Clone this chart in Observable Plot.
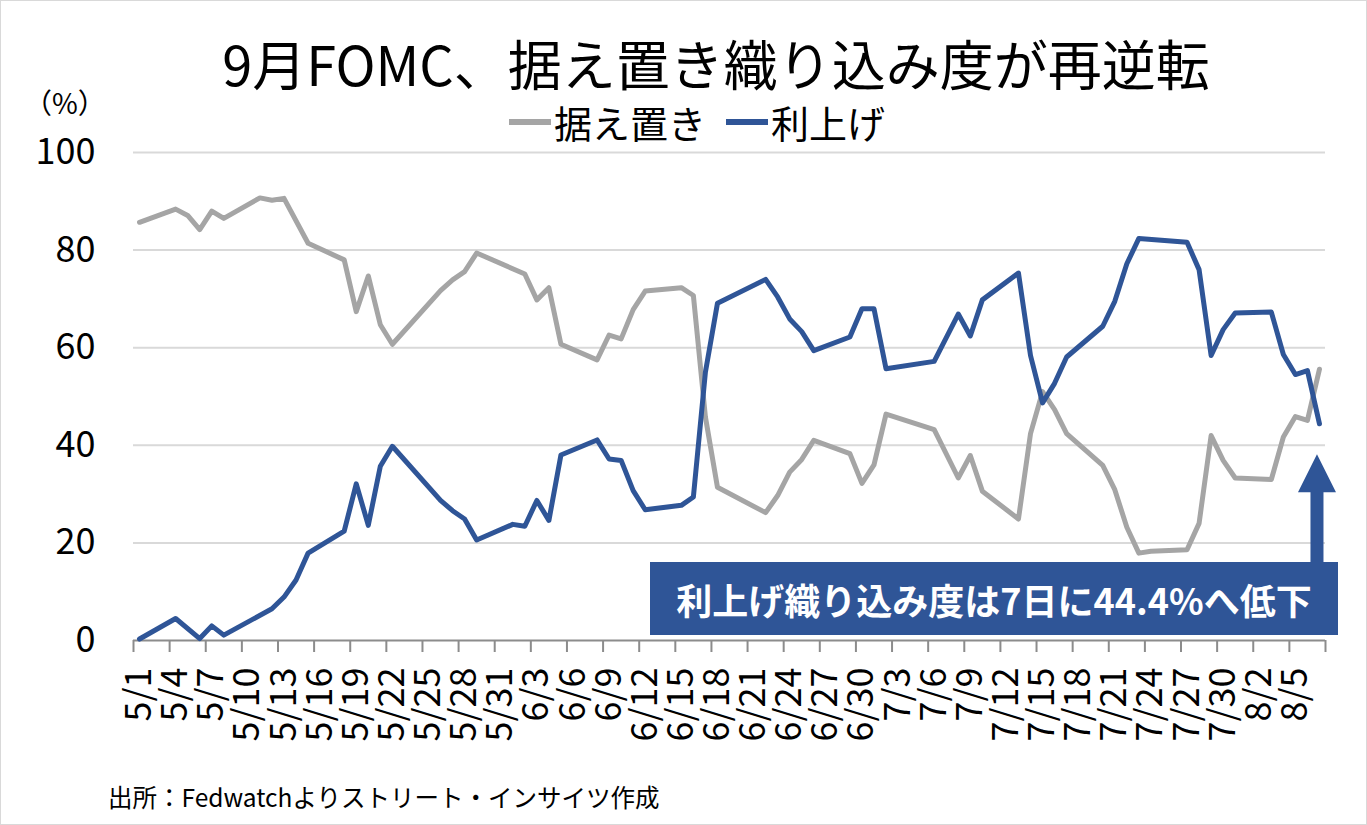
<!DOCTYPE html>
<html>
<head>
<meta charset="utf-8">
<script src="https://cdn.jsdelivr.net/npm/d3@7"></script>
<script src="https://cdn.jsdelivr.net/npm/@observablehq/plot@0.6"></script>
<style>
  body { margin: 0; background: #fff; }
  #wrap { position: relative; width: 1367px; height: 825px; overflow: hidden; font-family: "Noto Sans CJK JP", "Noto Sans", sans-serif; color: #000; }
  #chart { position: absolute; left: 0; top: 0; }
  #frame { position: absolute; left: 0; top: 0; width: 1365px; height: 823px; border: 1px solid #d9d9d9; pointer-events: none; }
  #title { position: absolute; left: 0; top: 36px; width: 1432px; text-align: center; font-size: 54px; line-height: 1; white-space: nowrap; }
  #legend { position: absolute; left: 0; top: 103px; width: 1394px; display: flex; justify-content: center; align-items: center; font-size: 38px; line-height: 1; }
  .item { display: flex; align-items: center; margin: 0 10px; }
  .swatch { width: 42px; height: 6px; margin-right: 3px; }
  #unit { position: absolute; left: 24px; top: 88px; font-size: 28px; line-height: 1; white-space: nowrap; }
  #caption { position: absolute; left: 108px; top: 785px; font-size: 24.5px; line-height: 1; white-space: nowrap; }
  #note { position: absolute; left: 650px; top: 562px; width: 688px; height: 73px; background: #2f5597; color: #fff; font-weight: bold; font-size: 36px; display: flex; align-items: center; justify-content: center; white-space: nowrap; }
</style>
</head>
<body>
<div id="wrap">
  <div id="chart"></div>
  <div id="title">9月FOMC、据え置き織り込み度が再逆転</div>
  <div id="legend"></div>
  <div id="unit">（%）</div>
  <div id="note">利上げ織り込み度は7日に44.4%へ低下</div>
  <div id="caption">出所：Fedwatchよりストリート・インサイツ作成</div>
  <div id="frame"></div>
</div>
<script>
// ---- data ----
const year = 2023;
const seriesNames = ["据え置き", "利上げ"];
const seriesColors = ["#a5a5a5", "#2f5597"];

const holdDates = ["5/1","5/4","5/5","5/6","5/7","5/8","5/11","5/12","5/13","5/15",
  "5/18","5/19","5/20","5/21","5/22","5/26","5/27","5/28","5/29","6/2",
  "6/3","6/4","6/5","6/8","6/9","6/10","6/11","6/12","6/15","6/16",
  "6/17","6/18","6/22","6/23","6/24","6/25","6/26","6/29","6/30","7/1",
  "7/2","7/6","7/8","7/9","7/10","7/13","7/14","7/15","7/16","7/17",
  "7/20","7/21","7/22","7/23","7/24","7/27","7/28","7/29","7/30","7/31",
  "8/3","8/4","8/5","8/6","8/7"];
const holdValues = [85.7,88.4,87.1,84.2,88.0,86.5,90.7,90.2,90.6,81.4,
  78.0,67.4,74.7,64.7,60.7,71.7,73.9,75.6,79.4,75.1,
  69.8,72.3,60.7,57.5,62.6,61.8,67.8,71.6,72.3,70.7,
  45.8,31.4,26.2,29.7,34.5,37.1,41.0,38.3,32.2,36.0,
  46.4,43.2,33.3,37.9,30.6,24.9,42.4,51.0,47.3,42.4,
  35.9,30.9,23.2,17.9,18.3,18.6,24.0,42.0,36.9,33.3,
  33.0,41.7,45.9,45.1,55.6];

const hikeDates = ["5/1","5/4","5/6","5/7","5/8","5/12","5/13","5/14","5/15","5/18",
  "5/19","5/20","5/21","5/22","5/26","5/27","5/28","5/29","6/1","6/2",
  "6/3","6/4","6/5","6/8","6/9","6/10","6/11","6/12","6/15","6/16",
  "6/17","6/18","6/22","6/23","6/24","6/25","6/26","6/29","6/30","7/1",
  "7/2","7/6","7/8","7/9","7/10","7/13","7/14","7/15","7/16","7/17",
  "7/20","7/21","7/22","7/23","7/27","7/28","7/29","7/30","7/31","8/3",
  "8/4","8/5","8/6","8/7"];
const hikeValues = [0.3,4.5,0.4,3.0,1.1,6.5,8.9,12.4,17.9,22.4,
  32.1,23.6,35.7,39.8,28.7,26.6,24.9,20.6,23.8,23.4,
  28.7,24.6,38.0,41.1,37.2,36.9,30.7,26.8,27.7,29.4,
  55.0,69.1,74.0,70.4,65.9,63.3,59.4,62.2,68.0,68.0,
  55.7,57.2,66.9,62.4,69.8,75.3,58.4,48.7,52.7,58.1,
  64.4,69.5,77.2,82.4,81.6,76.0,58.4,63.7,67.1,67.3,
  58.6,54.5,55.3,44.4];

const xTickLabels = ["5/1","5/4","5/7","5/10","5/13","5/16","5/19","5/22","5/25","5/28","5/31",
  "6/3","6/6","6/9","6/12","6/15","6/18","6/21","6/24","6/27","6/30",
  "7/3","7/6","7/9","7/12","7/15","7/18","7/21","7/24","7/27","7/30","8/2","8/5"];
const yTicks = [0, 20, 40, 60, 80, 100];

// ---- build ----
const parse = s => { const [m, d] = s.split("/").map(Number); return new Date(Date.UTC(year, m - 1, d)); };
const HALF = 12 * 3600 * 1000;
const hold = holdDates.map((d, i) => ({date: parse(d), value: holdValues[i]}));
const hike = hikeDates.map((d, i) => ({date: parse(d), value: hikeValues[i]}));
const firstDate = parse(xTickLabels[0]);
const lastDate = d3.max([...hold, ...hike], d => d.date);
const labelDates = xTickLabels.map(parse);
const boundaryDates = labelDates.map(d => new Date(+d - HALF)).concat([new Date(+lastDate + HALF)]);
const fmt = d => `${d.getUTCMonth() + 1}/${d.getUTCDate()}`;

const chart = Plot.plot({
  width: 1367,
  height: 825,
  marginLeft: 133,
  marginRight: 42,
  marginTop: 152,
  marginBottom: 185,
  style: {fontFamily: '"Noto Sans CJK JP", "Noto Sans", sans-serif', color: "#000", background: "transparent", overflow: "visible"},
  x: {type: "utc", domain: [new Date(+firstDate - HALF), new Date(+lastDate + HALF)]},
  y: {domain: [0, 100]},
  marks: [
    Plot.gridY(yTicks.filter(v => v > 0), {stroke: "#d9d9d9", strokeOpacity: 1, strokeWidth: 2}),
    Plot.ruleY([0], {stroke: "#8c8c8c", strokeWidth: 2}),
    Plot.axisX({ticks: boundaryDates, tickFormat: () => "", tickSize: 12, stroke: "#8c8c8c", strokeWidth: 2, label: null}),
    Plot.axisX({ticks: labelDates, tickFormat: fmt, tickSize: 0, tickPadding: 27, tickRotate: -90, fontSize: 36, label: null}),
    Plot.axisY({ticks: yTicks, tickSize: 0, tickPadding: 38, fontSize: 36, label: null}),
    Plot.line(hold, {x: "date", y: "value", stroke: seriesColors[0], strokeWidth: 5, strokeLinejoin: "round"}),
    Plot.line(hike, {x: "date", y: "value", stroke: seriesColors[1], strokeWidth: 5, strokeLinejoin: "round"})
  ]
});
document.getElementById("chart").appendChild(chart);

// arrow pointing at the latest 利上げ value
const xs = chart.scale("x"), ys = chart.scale("y");
const last = hike[hike.length - 1];
const ax = xs.apply(last.date) - 2;
const tipY = ys.apply(last.value) + 31;
const baseY = 563;
const hw = 19, sw = 6.5, hh = 38;
d3.select(chart).append("polygon")
  .attr("fill", seriesColors[1])
  .attr("points", [[ax, tipY], [ax + hw, tipY + hh], [ax + sw, tipY + hh], [ax + sw, baseY], [ax - sw, baseY], [ax - sw, tipY + hh], [ax - hw, tipY + hh]].map(p => p.join(",")).join(" "));

// legend
const legend = d3.select("#legend");
seriesNames.forEach((n, i) => {
  const it = legend.append("div").attr("class", "item");
  it.append("div").attr("class", "swatch").style("background", seriesColors[i]);
  it.append("span").text(n);
});
</script>
</body>
</html>
